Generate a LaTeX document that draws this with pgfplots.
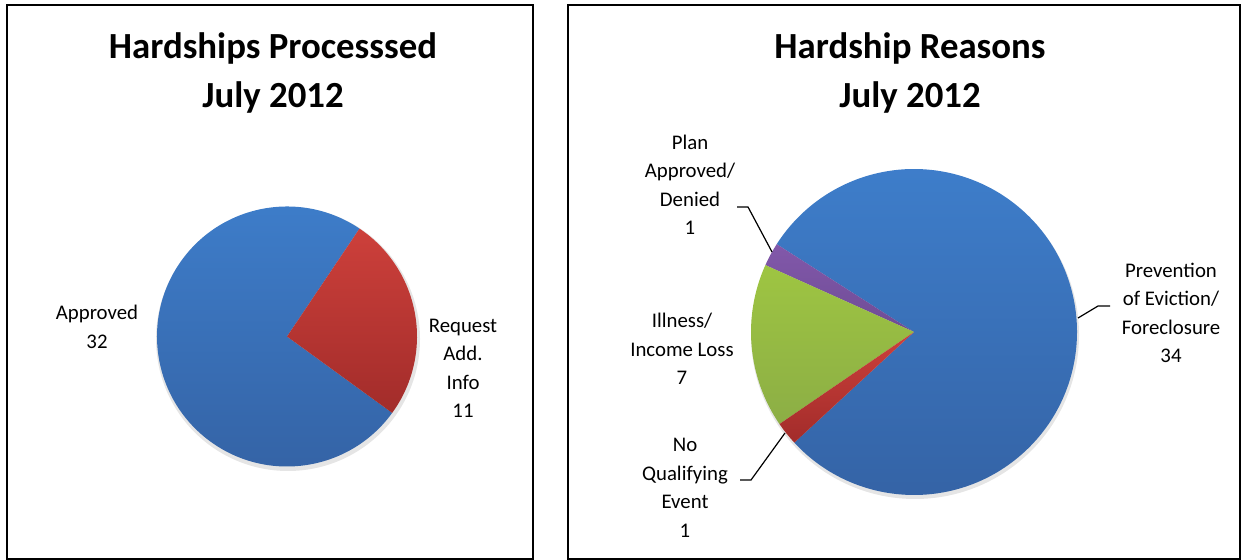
\documentclass[border=0pt]{standalone}
\usepackage{pgfplots}
\pgfplotsset{compat=1.18}
\usepackage{pgfplotstable}
\usepackage{fontspec}
\setmainfont{Carlito}

\definecolor{bluetop}{HTML}{3E7ECB}
\definecolor{bluebot}{HTML}{3462A4}
\definecolor{redtop}{HTML}{CD403B}
\definecolor{redbot}{HTML}{A22C2A}
\definecolor{greentop}{HTML}{9EC542}
\definecolor{greenbot}{HTML}{8CAE45}
\definecolor{purptop}{HTML}{8258AA}
\definecolor{purpbot}{HTML}{6E4C95}

% Hardships processed, July 2012
\pgfplotstableread{
name value
Approved 32
RequestAddInfo 11
}\processed
% Hardship reasons, July 2012
\pgfplotstableread{
name value
Prevention 34
Illness 7
Plan 1
NoQualifying 1
}\reasons

\begin{document}
\begin{tikzpicture}
% read values
\pgfplotstablegetelem{0}{value}\of\processed \pgfmathsetmacro\vApp{\pgfplotsretval}
\pgfplotstablegetelem{1}{value}\of\processed \pgfmathsetmacro\vReq{\pgfplotsretval}
\pgfmathsetmacro\totL{\vApp+\vReq}
\pgfmathsetmacro\rS{-36}
\pgfmathsetmacro\rE{\rS+360*\vReq/\totL}
\pgfmathsetmacro\bE{\rS+360}
\pgfplotstablegetelem{0}{value}\of\reasons \pgfmathsetmacro\vPrev{\pgfplotsretval}
\pgfplotstablegetelem{1}{value}\of\reasons \pgfmathsetmacro\vIll{\pgfplotsretval}
\pgfplotstablegetelem{2}{value}\of\reasons \pgfmathsetmacro\vPlan{\pgfplotsretval}
\pgfplotstablegetelem{3}{value}\of\reasons \pgfmathsetmacro\vNoq{\pgfplotsretval}
\pgfmathsetmacro\totR{\vPrev+\vIll+\vPlan+\vNoq}
\pgfmathsetmacro\pS{147.4}
\pgfmathsetmacro\pE{\pS+360*\vPlan/\totR}
\pgfmathsetmacro\gE{\pE+360*\vIll/\totR}
\pgfmathsetmacro\nE{\gE+360*\vNoq/\totR}
\pgfmathsetmacro\zE{\pS+360}
\begin{axis}[scale only axis, width=622pt, height=280pt,
  xmin=0, xmax=1244, ymin=0, ymax=560, hide axis, clip=false]
\path (axis cs:0,0) rectangle (axis cs:1244,560);
% frames
\draw[line width=0.8pt] (axis cs:7,1) rectangle (axis cs:533,555);
\draw[line width=0.8pt] (axis cs:568,1) rectangle (axis cs:1240,555);
% titles
\node[font=\fontsize{18.4}{24.5}\selectfont\bfseries, align=center] at (axis cs:273,487.5) {Hardships Processsed\\July 2012};
\node[font=\fontsize{18.4}{24.5}\selectfont\bfseries, align=center] at (axis cs:910,487.5) {Hardship Reasons\\July 2012};
% left pie shadow
\fill[black, opacity=0.10] (axis cs:288,221) circle[radius=66pt];
% left pie
\shade[top color=bluetop, bottom color=bluebot] (axis cs:287,223.5) -- ++(\rE:65pt) arc[start angle=\rE, end angle=\bE, radius=65pt] -- cycle;
\shade[top color=redtop, bottom color=redbot] (axis cs:287,223.5) -- ++(\rS:65pt) arc[start angle=\rS, end angle=\rE, radius=65pt] -- cycle;
% left labels
\node[font=\fontsize{10.4}{14.25}\selectfont, align=center] at (axis cs:97,233) {Approved\\32};
\node[font=\fontsize{10.4}{14.25}\selectfont, align=center] at (axis cs:463,191.5) {Request\\Add.\\Info\\11};
% right pie shadow
\fill[black, opacity=0.10] (axis cs:915,225) circle[radius=82pt];
% right pie
\shade[top color=bluetop, bottom color=bluebot] (axis cs:914,228) -- ++(\nE:81.5pt) arc[start angle=\nE, end angle=\zE, radius=81.5pt] -- cycle;
\shade[top color=purptop, bottom color=purpbot] (axis cs:914,228) -- ++(\pS:81.5pt) arc[start angle=\pS, end angle=\pE, radius=81.5pt] -- cycle;
\shade[top color=greentop, bottom color=greenbot] (axis cs:914,228) -- ++(\pE:81.5pt) arc[start angle=\pE, end angle=\gE, radius=81.5pt] -- cycle;
\shade[top color=redtop, bottom color=redbot] (axis cs:914,228) -- ++(\gE:81.5pt) arc[start angle=\gE, end angle=\nE, radius=81.5pt] -- cycle;
% leader lines
\draw[line width=0.6pt] (axis cs:737,353) -- (axis cs:748,353) -- (axis cs:772,308);
\draw[line width=0.6pt] (axis cs:740,80) -- (axis cs:751,80) -- (axis cs:785,127);
\draw[line width=0.6pt] (axis cs:1078,242) -- (axis cs:1098,254) -- (axis cs:1110,254);
% right labels
\node[font=\fontsize{10.4}{14.25}\selectfont, align=center] at (axis cs:690,375) {Plan\\Approved/\\Denied\\1};
\node[font=\fontsize{10.4}{14.25}\selectfont, align=center] at (axis cs:682,211) {Illness/\\Income Loss\\7};
\node[font=\fontsize{10.4}{14.25}\selectfont, align=center] at (axis cs:685,72) {No\\Qualifying\\Event\\1};
\node[font=\fontsize{10.4}{14.25}\selectfont, align=center] at (axis cs:1171,247) {Prevention\\of Eviction/\\Foreclosure\\34};
\end{axis}
\end{tikzpicture}
\end{document}
